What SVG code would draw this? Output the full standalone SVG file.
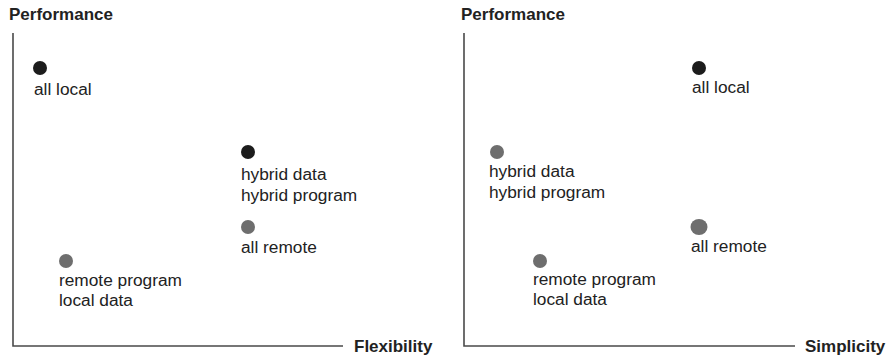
<svg xmlns="http://www.w3.org/2000/svg" width="891" height="358" viewBox="0 0 891 358">
  <style>
    .axis { stroke: #4a4a4a; stroke-width: 1.6; fill: none; }
    .title { font-family: "Liberation Sans", Arial, sans-serif; font-weight: bold; font-size: 17px; fill: #222; }
    .label { font-family: "Liberation Sans", Arial, sans-serif; font-size: 17.3px; fill: #222; }
    .dark { fill: #1c1c1c; }
    .grey { fill: #6e6e6e; }
  </style>
  <rect width="891" height="358" fill="#ffffff"/>

  <!-- Left chart: Performance vs Flexibility -->
  <g id="left-axes">
    <path class="axis" d="M13 33 V346 H343"/>
    <text class="title" x="9" y="20">Performance</text>
    <text class="title" x="354" y="352">Flexibility</text>
  </g>
  <g id="left-all-local">
    <circle class="dark" cx="40" cy="68" r="7"/>
    <text class="label" x="34" y="95">all local</text>
  </g>
  <g id="left-hybrid">
    <circle class="dark" cx="248" cy="152" r="7"/>
    <text class="label" x="241" y="180">hybrid data</text>
    <text class="label" x="241" y="201">hybrid program</text>
  </g>
  <g id="left-all-remote">
    <circle class="grey" cx="248" cy="227" r="7"/>
    <text class="label" x="241" y="253">all remote</text>
  </g>
  <g id="left-remote-program">
    <circle class="grey" cx="66" cy="261" r="7"/>
    <text class="label" x="59" y="286">remote program</text>
    <text class="label" x="59" y="306">local data</text>
  </g>

  <!-- Right chart: Performance vs Simplicity -->
  <g id="right-axes">
    <path class="axis" d="M464 33 V346 H795"/>
    <text class="title" x="461" y="20">Performance</text>
    <text class="title" x="805" y="352">Simplicity</text>
  </g>
  <g id="right-all-local">
    <circle class="dark" cx="699" cy="68" r="7"/>
    <text class="label" x="692" y="93">all local</text>
  </g>
  <g id="right-hybrid">
    <circle class="grey" cx="497" cy="152" r="7"/>
    <text class="label" x="489" y="177">hybrid data</text>
    <text class="label" x="489" y="198">hybrid program</text>
  </g>
  <g id="right-all-remote">
    <ellipse class="grey" cx="699" cy="227" rx="8.5" ry="8"/>
    <text class="label" x="691" y="252">all remote</text>
  </g>
  <g id="right-remote-program">
    <circle class="grey" cx="540" cy="261" r="7"/>
    <text class="label" x="533" y="285">remote program</text>
    <text class="label" x="533" y="305">local data</text>
  </g>
</svg>
